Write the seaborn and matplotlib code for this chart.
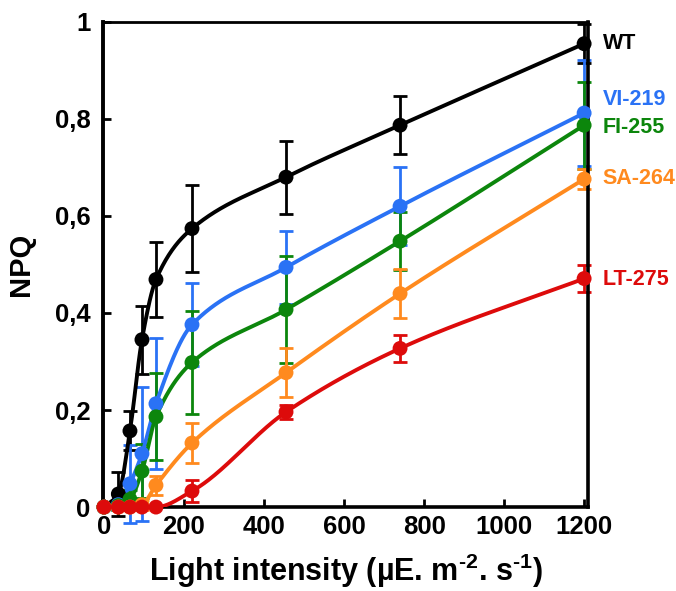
import numpy as np
import pandas as pd
import matplotlib
matplotlib.use("Agg")
import matplotlib.pyplot as plt
import seaborn as sns

# Light intensities (µE m-2 s-1)
light = [0, 36, 65, 95, 130, 220, 455, 740, 1200]

# NPQ means and standard deviations per strain
wt_npq = [0, 0.027, 0.157, 0.345, 0.469, 0.574, 0.680, 0.787, 0.955]
wt_sd = [0, 0.045, 0.040, 0.070, 0.077, 0.090, 0.075, 0.060, 0.040]
vi_npq = [0, 0.005, 0.048, 0.110, 0.213, 0.376, 0.494, 0.620, 0.812]
vi_sd = [0, 0.010, 0.080, 0.138, 0.135, 0.085, 0.075, 0.080, 0.110]
fi_npq = [0, 0.003, 0.016, 0.074, 0.186, 0.298, 0.407, 0.548, 0.787]
fi_sd = [0, 0.010, 0.020, 0.055, 0.090, 0.107, 0.110, 0.060, 0.090]
sa_npq = [0, 0, 0, 0.005, 0.045, 0.132, 0.277, 0.440, 0.676]
sa_sd = [0, 0, 0, 0.010, 0.020, 0.042, 0.050, 0.050, 0.020]
lt_npq = [0, 0, 0, 0, 0, 0.033, 0.196, 0.327, 0.471]
lt_sd = [0, 0, 0, 0, 0, 0.022, 0.015, 0.027, 0.027]

strains = ["WT", "VI-219", "FI-255", "SA-264", "LT-275"]
colors = ["#000000", "#2a72f5", "#0c860c", "#ff8a1e", "#dd0b0b"]
label_y = [0.955, 0.839, 0.783, 0.678, 0.469]

series = {
    "WT": (wt_npq, wt_sd),
    "VI-219": (vi_npq, vi_sd),
    "FI-255": (fi_npq, fi_sd),
    "SA-264": (sa_npq, sa_sd),
    "LT-275": (lt_npq, lt_sd),
}


def pchip(x, y, xs):
    """Shape-preserving cubic Hermite interpolation."""
    x = np.asarray(x, float)
    y = np.asarray(y, float)
    h = np.diff(x)
    d = np.diff(y) / h
    n = len(x)
    m = np.zeros(n)
    for k in range(1, n - 1):
        if d[k - 1] * d[k] > 0:
            w1 = 2 * h[k] + h[k - 1]
            w2 = h[k] + 2 * h[k - 1]
            m[k] = (w1 + w2) / (w1 / d[k - 1] + w2 / d[k])
    m[0] = d[0]
    m[-1] = d[-1]
    idx = np.clip(np.searchsorted(x, xs) - 1, 0, n - 2)
    t = (xs - x[idx]) / h[idx]
    h00 = 2 * t**3 - 3 * t**2 + 1
    h10 = t**3 - 2 * t**2 + t
    h01 = -2 * t**3 + 3 * t**2
    h11 = t**3 - t**2
    return (h00 * y[idx] + h10 * h[idx] * m[idx]
            + h01 * y[idx + 1] + h11 * h[idx] * m[idx + 1])


sns.set_theme(style="ticks")
plt.rcParams["font.family"] = ["Liberation Sans", "DejaVu Sans"]
plt.rcParams["font.weight"] = "bold"
plt.rcParams["text.color"] = "black"
plt.rcParams["axes.labelcolor"] = "black"
plt.rcParams["mathtext.fontset"] = "custom"
plt.rcParams["mathtext.rm"] = "Liberation Sans:bold"
plt.rcParams["mathtext.default"] = "rm"

fig = plt.figure(figsize=(6.76, 5.91), dpi=100)
ax = fig.add_axes([0.152, 0.142, 0.718, 0.821])

xs = np.linspace(0, 1200, 600)
curve_rows = []
point_rows = []
for name in strains:
    npq, sd = series[name]
    for xv, yv in zip(xs, pchip(light, npq, xs)):
        curve_rows.append({"light": xv, "npq": yv, "strain": name})
    for xv, yv, ev in zip(light, npq, sd):
        point_rows.append({"light": xv, "npq": yv, "sd": ev, "strain": name})
curves = pd.DataFrame(curve_rows)
points = pd.DataFrame(point_rows)

for name, col, ly in zip(strains, colors, label_y):
    sub = points[points["strain"] == name]
    ax.errorbar(sub["light"], sub["npq"], yerr=sub["sd"], fmt="none",
                ecolor=col, elinewidth=2.0, capsize=5, capthick=2.0,
                clip_on=False, zorder=2)
    sns.lineplot(data=curves[curves["strain"] == name], x="light", y="npq",
                 color=col, linewidth=2.8, ax=ax, legend=False, zorder=3)
    sns.scatterplot(data=sub, x="light", y="npq", color=col, s=115,
                    edgecolor="none", ax=ax, legend=False, zorder=4,
                    clip_on=False)
    ax.text(1247, ly, name, color=col, fontsize=15.5, fontweight="bold",
            ha="left", va="center", clip_on=False)

ax.set_xlim(-3, 1210)
ax.set_ylim(0, 1)
ax.set_xticks([0, 200, 400, 600, 800, 1000, 1200])
ax.set_yticks([0, 0.2, 0.4, 0.6, 0.8, 1.0])
ax.set_yticklabels(["0", "0,2", "0,4", "0,6", "0,8", "1"])
ax.tick_params(direction="in", length=6, width=2, labelsize=18.5,
               colors="black")
ax.tick_params(axis="y", pad=9)
ax.tick_params(axis="x", pad=6)
for lab in ax.get_xticklabels() + ax.get_yticklabels():
    lab.set_fontweight("bold")
for side in ["left", "bottom", "top", "right"]:
    ax.spines[side].set_visible(True)
    ax.spines[side].set_color("black")
ax.spines["left"].set_linewidth(2.8)
ax.spines["bottom"].set_linewidth(2.6)
ax.spines["top"].set_linewidth(2.0)
ax.spines["right"].set_linewidth(2.6)

ax.set_xlabel("Light intensity (µE. m$^{‐2}$. s$^{‐1}$)", fontsize=22,
              fontweight="bold", labelpad=9)
ax.set_ylabel("NPQ", fontsize=21, fontweight="bold", labelpad=14)

fig.savefig("out.png", dpi=100)
